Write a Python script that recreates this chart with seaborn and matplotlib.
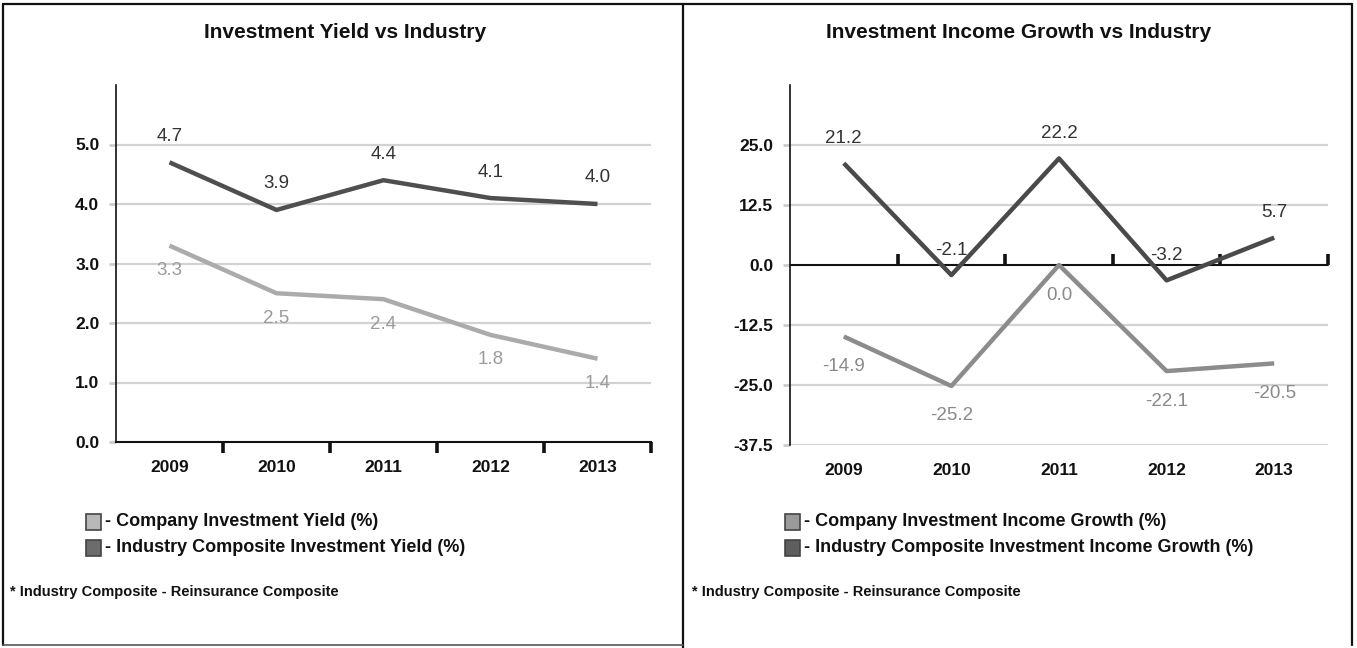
import matplotlib
matplotlib.use("Agg")
import matplotlib.pyplot as plt
from matplotlib.lines import Line2D
from matplotlib.patches import Rectangle
import numpy as np
import pandas as pd
import seaborn as sns

years = ["2009", "2010", "2011", "2012", "2013"]

company_yield = [3.3, 2.5, 2.4, 1.8, 1.4]
industry_yield = [4.7, 3.9, 4.4, 4.1, 4.0]

company_growth = [-14.9, -25.2, 0.0, -22.1, -20.5]
industry_growth = [21.2, -2.1, 22.2, -3.2, 5.7]

yield_ticks = [0.0, 1.0, 2.0, 3.0, 4.0, 5.0]
growth_ticks = [-37.5, -25.0, -12.5, 0.0, 12.5, 25.0]

left_title = "Investment Yield vs Industry"
right_title = "Investment Income Growth vs Industry"
left_legend = ["- Company Investment Yield (%)",
               "- Industry Composite Investment Yield (%)"]
right_legend = ["- Company Investment Income Growth (%)",
                "- Industry Composite Investment Income Growth (%)"]
footnote = "* Industry Composite - Reinsurance Composite"

sns.set_theme(style="white")
plt.rcParams["font.family"] = ["Liberation Sans", "DejaVu Sans"]

W, H = 1357, 648
fig = plt.figure(figsize=(W / 100, H / 100), dpi=100)
fig.patch.set_facecolor("white")


def fx(px):
    return px / W


def fy(py):
    return 1 - py / H


def long_frame(company, industry):
    return pd.DataFrame({
        "Year": years * 2,
        "Value": list(company) + list(industry),
        "Series": ["Company"] * len(years) + ["Industry"] * len(years),
    })


def draw_panel(ax, company, industry, ylim, ticks, c_company, c_ind,
               c_company_lbl, up_off, down_off, zero_axis):
    df = long_frame(company, industry)
    sns.lineplot(data=df, x="Year", y="Value", hue="Series",
                 palette={"Company": c_company, "Industry": c_ind},
                 linewidth=3.2, legend=False, ax=ax, zorder=4,
                 solid_capstyle="butt")
    ax.set_xlim(-0.5, len(years) - 0.5)
    ax.set_ylim(*ylim)
    ax.set_xlabel("")
    ax.set_ylabel("")
    ax.set_facecolor("white")

    for t in ticks:
        if (zero_axis and t == 0) or (not zero_axis and t == ylim[0]):
            continue
        ax.axhline(t, color="#d2d2d2", lw=1.6, zorder=1)

    ax.set_yticks(ticks)
    ax.set_yticklabels([f"{t:.1f}" for t in ticks],
                       fontsize=12.5, fontweight="bold", color="#111111")
    ax.tick_params(axis="y", which="major", direction="out", length=5,
                   width=2, color="#cccccc", pad=7, left=True)

    ax.set_xticks(range(len(years)))
    ax.set_xticklabels(years, fontsize=12.5, fontweight="bold",
                       color="#111111")

    for side in ["top", "right"]:
        ax.spines[side].set_visible(False)
    ax.spines["left"].set_color("#111111")
    ax.spines["left"].set_linewidth(1.2)

    boundaries = np.arange(0.5, len(years), 1.0)
    if zero_axis:
        ax.spines["bottom"].set_visible(False)
        ax.tick_params(axis="x", which="major", length=0, pad=13, bottom=True)
        ax.axhline(0, color="#111111", lw=1.5, zorder=2)
        sec = ax.secondary_xaxis(0.5)
        sec.set_xticks(boundaries)
        sec.set_xticklabels([])
        sec.spines["bottom"].set_visible(False)
        sec.tick_params(axis="x", direction="out", length=8, width=2.6,
                        color="#111111")
    else:
        ax.spines["bottom"].set_color("#111111")
        ax.spines["bottom"].set_linewidth(1.5)
        ax.set_xticks(boundaries, minor=True)
        ax.tick_params(axis="x", which="minor", direction="out", length=8,
                       width=2.6, color="#111111", bottom=True)
        ax.tick_params(axis="x", which="major", length=0, pad=13, bottom=True)

    for i, v in enumerate(industry):
        ax.annotate(f"{v:.1f}", xy=(i, v), xytext=(0, up_off),
                    textcoords="offset pixels", ha="center", va="center",
                    fontsize=13.5, color="#333333", zorder=5)
    for i, v in enumerate(company):
        ax.annotate(f"{v:.1f}", xy=(i, v), xytext=(0, -down_off),
                    textcoords="offset pixels", ha="center", va="center",
                    fontsize=13.5, color=c_company_lbl, zorder=5)


ax1 = fig.add_axes([fx(116), fy(442), fx(651 - 116), (442 - 85) / H])
draw_panel(ax1, company_yield, industry_yield, (0, 6), yield_ticks,
           "#ababab", "#4f4f4f", "#9c9c9c", 26, 25, zero_axis=False)

ax2 = fig.add_axes([fx(790), fy(445), fx(1328 - 790), (445 - 85) / H])
draw_panel(ax2, company_growth, industry_growth, (-37.5, 37.5), growth_ticks,
           "#8c8c8c", "#4a4a4a", "#8a8a8a", 25, 30, zero_axis=True)

# Panel titles
fig.text(fx(345), fy(32), left_title, ha="center", va="center",
         fontsize=15, fontweight="bold", color="#111111")
fig.text(fx(1019), fy(32), right_title, ha="center", va="center",
         fontsize=15, fontweight="bold", color="#111111")


# Legend swatches and labels
def legend_block(x0, labels, fills):
    for k, (lab, fc) in enumerate(zip(labels, fills)):
        yc = 522 + 26 * k
        fig.patches.append(Rectangle((fx(x0), fy(yc + 8)), fx(15), 16 / H,
                                     transform=fig.transFigure,
                                     facecolor=fc, edgecolor="#444444",
                                     lw=1.2))
        fig.text(fx(x0 + 19), fy(yc), lab, ha="left", va="center",
                 fontsize=13, fontweight="bold", color="#111111")


legend_block(86, left_legend, ["#b8b8b8", "#6c6c6c"])
legend_block(785, right_legend, ["#9a9a9a", "#5e5e5e"])

fig.text(fx(10), fy(592), footnote, ha="left", va="center",
         fontsize=10.5, fontweight="bold", color="#111111")
fig.text(fx(692), fy(592), footnote, ha="left", va="center",
         fontsize=10.5, fontweight="bold", color="#111111")

# Frame around the two panels
frame = dict(transform=fig.transFigure, color="#111111", lw=1.6)
fig.add_artist(Line2D([fx(3), fx(1352)], [fy(4), fy(4)], **frame))
fig.add_artist(Line2D([fx(3), fx(3)], [fy(4), fy(645)], **frame))
fig.add_artist(Line2D([fx(1352), fx(1352)], [fy(4), fy(645)], **frame))
fig.add_artist(Line2D([fx(683), fx(683)], [fy(4), fy(648)], **frame))
fig.add_artist(Line2D([fx(3), fx(683)], [fy(645), fy(645)],
                      transform=fig.transFigure, color="#555555", lw=1.2))

fig.savefig("out.png", dpi=100, facecolor="white")
